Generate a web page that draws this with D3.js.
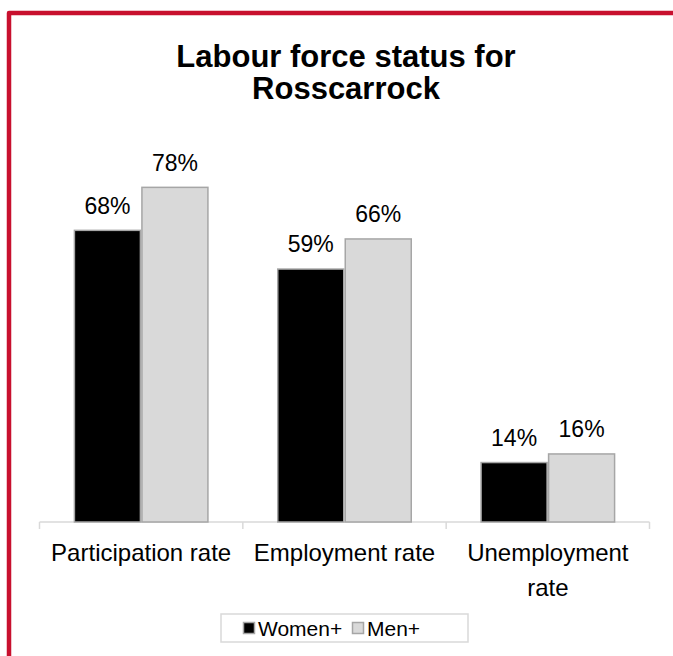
<!DOCTYPE html>
<html>
<head>
<meta charset="utf-8">
<script src="https://cdn.jsdelivr.net/npm/d3@7/dist/d3.min.js"></script>
<style>
html,body{margin:0;padding:0;background:#fff;}
svg{display:block;}
text{font-family:"Liberation Sans",Arial,sans-serif;fill:#000;}
</style>
</head>
<body>
<svg id="chart" width="673" height="656"></svg>
<script>
const titleLines = ["Labour force status for", "Rosscarrock"];
const categories = ["Participation rate", "Employment rate", "Unemployment rate"];
const categoryLines = [["Participation rate"], ["Employment rate"], ["Unemployment", "rate"]];
const seriesNames = ["Women+", "Men+"];
const women = [68, 59, 14];
const men = [78, 66, 16];
const valueLabels = [["68%", "59%", "14%"], ["78%", "66%", "16%"]];
const seriesFill = ["#000000", "#d9d9d9"];
const seriesStroke = ["#a6a6a6", "#a6a6a6"];

const svg = d3.select("#chart");
const W = 673, H = 656;

// red frame (top and left)
svg.append("path")
  .attr("d", `M9,${H+5} L9,13 L${W+5},13`)
  .attr("fill", "none")
  .attr("stroke", "#c8102e")
  .attr("stroke-width", 4.5)
  .attr("stroke-linejoin", "round");

// title
const title = svg.append("text")
  .attr("text-anchor", "middle")
  .attr("font-weight", "bold")
  .attr("font-size", 31);
titleLines.forEach((t, i) => {
  title.append("tspan").attr("x", 346).attr("y", 67 + i * 32).text(t);
});

const x0 = d3.scaleBand().domain(categories).range([39.5, 649.5]).paddingInner(0).paddingOuter(0);
const groupW = x0.bandwidth() * 0.664;
const x1 = d3.scaleBand().domain(seriesNames).range([0, groupW]).padding(0);
const y = d3.scaleLinear().domain([0, 100]).range([522, 92]);

const data = [women, men];

// axis
const axisG = svg.append("g").attr("transform", `translate(0,${y(0)})`);
axisG.call(d3.axisBottom(x0).tickSize(0).tickFormat(""));
axisG.select(".domain").remove();
axisG.append("line").attr("x1", 39.5).attr("x2", 649.5).attr("y1", 0).attr("y2", 0)
  .attr("stroke", "#d9d9d9").attr("stroke-width", 1.5);
const edges = categories.map(c => x0(c)).concat([x0(categories[2]) + x0.bandwidth()]);
axisG.selectAll(".edge").data(edges).enter().append("line")
  .attr("x1", d => d).attr("x2", d => d).attr("y1", 0).attr("y2", 7)
  .attr("stroke", "#d9d9d9").attr("stroke-width", 1.5);

// bars
seriesNames.forEach((s, si) => {
  const g = svg.append("g");
  categories.forEach((c, ci) => {
    const bx = x0(c) + (x0.bandwidth() - groupW) / 2 + x1(s);
    const v = data[si][ci];
    g.append("rect")
      .attr("x", bx + 0.75)
      .attr("y", y(v) + 0.75)
      .attr("width", x1.bandwidth() - 1.5)
      .attr("height", y(0) - y(v) - 0.75)
      .attr("fill", seriesFill[si])
      .attr("stroke", seriesStroke[si])
      .attr("stroke-width", 1.5);
    g.append("text")
      .attr("x", bx + x1.bandwidth() / 2)
      .attr("y", y(v) - 16)
      .attr("text-anchor", "middle")
      .attr("font-size", 23)
      .attr("fill", "#000")
      .text(valueLabels[si][ci]);
  });
});

// category labels
categories.forEach((c, ci) => {
  const t = svg.append("text")
    .attr("text-anchor", "middle")
    .attr("font-size", 24);
  categoryLines[ci].forEach((line, li) => {
    t.append("tspan")
      .attr("x", x0(c) + x0.bandwidth() / 2)
      .attr("y", 561 + li * 35)
      .text(line);
  });
});

// legend
const lg = svg.append("g");
lg.append("rect").attr("x", 221).attr("y", 614).attr("width", 247).attr("height", 28)
  .attr("fill", "#fff").attr("stroke", "#d9d9d9").attr("stroke-width", 1.5);
const legendX = [243, 352];
seriesNames.forEach((s, si) => {
  lg.append("rect").attr("x", legendX[si] + 0.5).attr("y", 622.5).attr("width", 11).attr("height", 11)
    .attr("fill", seriesFill[si]).attr("stroke", seriesStroke[si]).attr("stroke-width", 1.5);
  lg.append("text").attr("x", legendX[si] + 15).attr("y", 636).attr("font-size", 21).text(s);
});
</script>
</body>
</html>
